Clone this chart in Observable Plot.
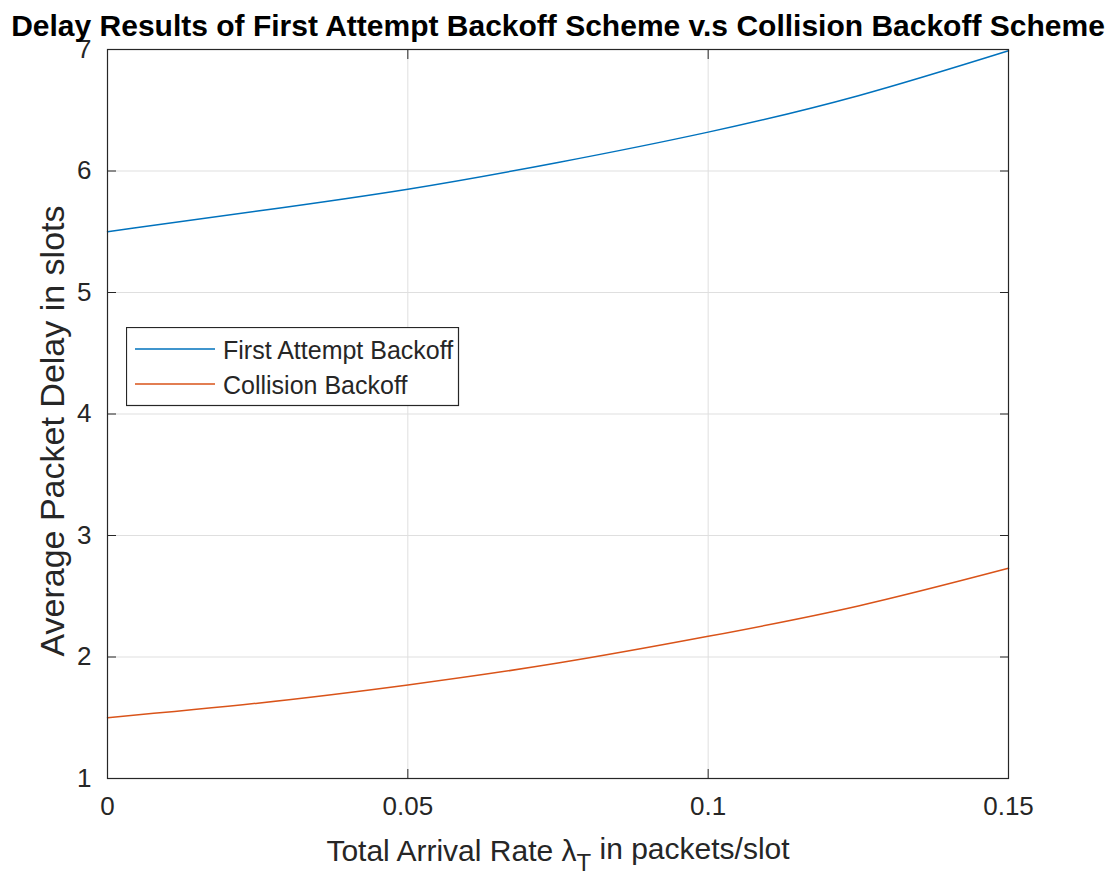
<!DOCTYPE html>
<html>
<head>
<meta charset="utf-8">
<script src="https://cdn.jsdelivr.net/npm/d3@7"></script>
<script src="https://cdn.jsdelivr.net/npm/@observablehq/plot@0.6"></script>
<style>
  body { margin: 0; background: #fff; }
  #chart { position: relative; width: 1112px; height: 876px; font-family: "Liberation Sans", Arial, Helvetica, sans-serif; }
  #legend { position: absolute; left: 126px; top: 327px; }
</style>
</head>
<body>
<div id="chart"></div>
<script>
// Arrival rate samples (packets/slot) and the average delay (slots) of each scheme
const rates = [0, 0.025, 0.05, 0.075, 0.1, 0.125, 0.15];
const firstAttemptDelay = [5.50, 5.67, 5.85, 6.07, 6.32, 6.62, 6.99];
const collisionDelay = [1.50, 1.62, 1.77, 1.95, 2.17, 2.42, 2.73];

const seriesNames = ["First Attempt Backoff", "Collision Backoff"];
const seriesColors = ["#0072BD", "#D95319"];

const xTicks = [0, 0.05, 0.1, 0.15];
const xTickLabels = ["0", "0.05", "0.1", "0.15"];
const yTicks = [1, 2, 3, 4, 5, 6, 7];
const yTickLabels = ["1", "2", "3", "4", "5", "6", "7"];

const titleText = "Delay Results of First Attempt Backoff Scheme v.s Collision Backoff Scheme";
const xLabelParts = ["Total Arrival Rate λ", "T", " in packets/slot"];
const yLabelText = "Average Packet Delay in slots";

// Long-format rows for the line mark
const rows = rates.flatMap((r, i) => [
  {rate: r, delay: firstAttemptDelay[i], series: seriesNames[0]},
  {rate: r, delay: collisionDelay[i], series: seriesNames[1]}
]);

const ink = "#262626";
const font = '"Liberation Sans", Arial, Helvetica, sans-serif';
const xLabelText = xLabelParts.join("");

const svg = Plot.plot({
  width: 1112,
  height: 876,
  marginTop: 49,
  marginRight: 104,
  marginBottom: 98,
  marginLeft: 107,
  style: {fontFamily: font, background: "#fff"},
  x: {domain: [0, 0.15], label: null},
  y: {domain: [1, 7], label: null},
  color: {domain: seriesNames, range: seriesColors},
  marks: [
    Plot.gridX(xTicks, {stroke: "#dfdfdf", strokeOpacity: 1}),
    Plot.gridY(yTicks, {stroke: "#dfdfdf", strokeOpacity: 1}),
    Plot.line(rows, {x: "rate", y: "delay", z: "series", stroke: "series", curve: "natural", strokeWidth: 1.5}),
    Plot.frame({stroke: ink, strokeWidth: 1.2}),
    // inward ticks on all four sides
    Plot.axisX(xTicks, {anchor: "bottom", tickSize: -9, tickFormat: () => "", color: ink}),
    Plot.axisX(xTicks, {anchor: "top", tickSize: -9, tickFormat: () => "", color: ink}),
    Plot.axisY(yTicks, {anchor: "left", tickSize: -9, tickFormat: () => "", color: ink}),
    Plot.axisY(yTicks, {anchor: "right", tickSize: -9, tickFormat: () => "", color: ink}),
    // tick labels
    Plot.axisX(xTicks, {anchor: "bottom", tickSize: 0, tickPadding: 18, fontSize: 26, color: ink,
      tickFormat: d => xTickLabels[xTicks.indexOf(d)]}),
    Plot.axisY(yTicks, {anchor: "left", tickSize: 0, tickPadding: 16, fontSize: 26, color: ink,
      tickFormat: d => yTickLabels[yTicks.indexOf(d)]}),
    // title and axis titles
    Plot.text([titleText], {frameAnchor: "top", dy: -23, fontSize: 30, fontWeight: "bold", fill: "#000", lineAnchor: "middle"}),
    Plot.text([xLabelText], {frameAnchor: "bottom", dy: 73, fontSize: 30, fill: ink, lineAnchor: "middle"}),
    Plot.text([yLabelText], {frameAnchor: "left", dx: -54, dy: 17, rotate: -90, fontSize: 34, fill: ink,
      textAnchor: "middle", lineAnchor: "middle"})
  ]
});

// Lower the "T" of λT into a subscript
d3.select(svg).selectAll("text")
  .filter(function() { return this.textContent === xLabelText; })
  .each(function() {
    const t = d3.select(this);
    t.text(null);
    t.append("tspan").text(xLabelParts[0]);
    t.append("tspan").attr("dy", "0.4em").attr("font-size", "24px").text(xLabelParts[1]);
    t.append("tspan").attr("dy", "-0.4em").text(xLabelParts[2]);
  });

const chart = document.getElementById("chart");
chart.appendChild(svg);

// Legend box
const legend = d3.select(chart).append("svg")
  .attr("id", "legend")
  .attr("width", 334)
  .attr("height", 80);
legend.append("rect")
  .attr("x", 0.5).attr("y", 0.5).attr("width", 332).attr("height", 78)
  .attr("fill", "#fff").attr("stroke", ink).attr("stroke-width", 1.2);
const entry = legend.selectAll("g.entry").data(seriesNames).join("g")
  .attr("class", "entry")
  .attr("transform", (d, i) => `translate(0,${i === 0 ? 0 : 35})`);
entry.append("line")
  .attr("x1", 9).attr("x2", 89).attr("y1", 22).attr("y2", 22)
  .attr("stroke", (d, i) => seriesColors[i]).attr("stroke-width", 1.5);
entry.append("text")
  .attr("x", 97).attr("y", 32)
  .attr("font-size", 25)
  .attr("fill", ink)
  .attr("font-family", font)
  .text(d => d);
</script>
</body>
</html>
